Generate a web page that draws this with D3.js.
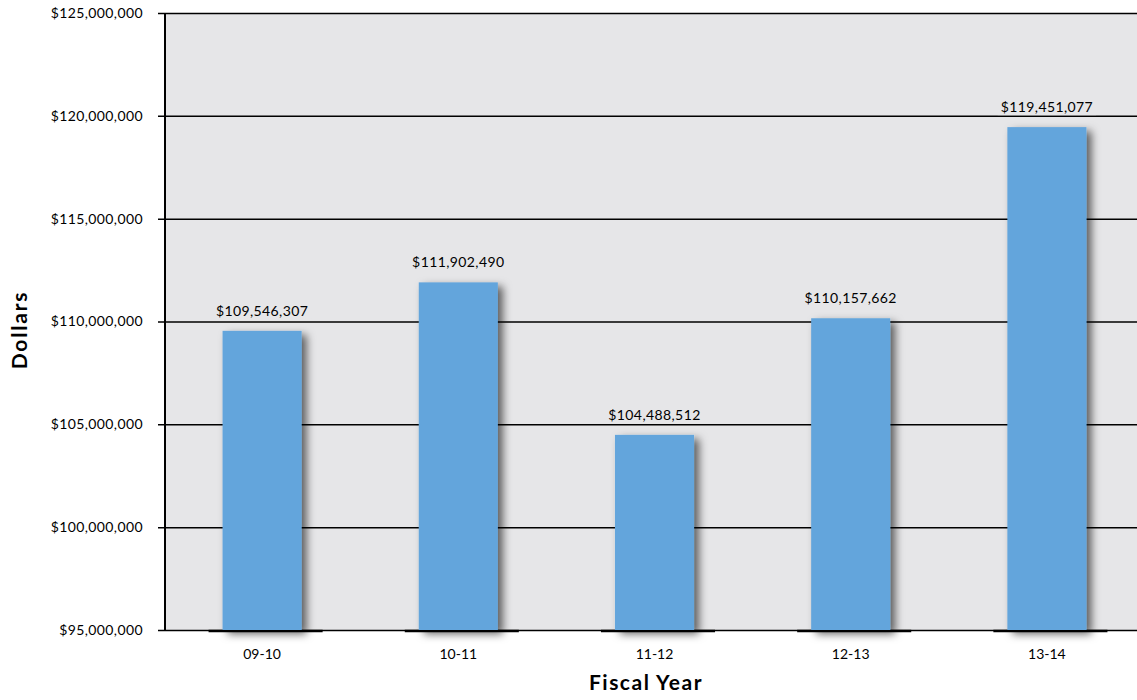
<!DOCTYPE html>
<html><head><meta charset="utf-8">
<script src="https://cdn.jsdelivr.net/npm/d3@7"></script>
<style>body{margin:0;background:#fff}svg{display:block}text{font-family:Lato,"Open Sans",sans-serif}</style>
</head><body>
<svg id="c" width="1137" height="700"></svg>
<script>
const categories = ["09-10","10-11","11-12","12-13","13-14"];
const values = [109546307,111902490,104488512,110157662,119451077];
const yTicks = [95000000,100000000,105000000,110000000,115000000,120000000,125000000];

const svg = d3.select("#c");
const M = {left:165, right:1137, top:13, bottom:630};
const x = d3.scaleBand().domain(categories).range([164, 1145]).paddingInner(0.597).paddingOuter(0.2985);
const y = d3.scaleLinear().domain([95000000,125000000]).range([M.bottom, M.top]);
const fmt = v => "$" + d3.format(",")(v);

const defs = svg.append("defs");
const f = defs.append("filter").attr("id","sh").attr("x","-30%").attr("y","-10%").attr("width","170%").attr("height","130%");
f.append("feDropShadow").attr("dx",5).attr("dy",4).attr("stdDeviation",4.5).attr("flood-color","#000").attr("flood-opacity",0.6);

svg.append("rect").attr("x",M.left).attr("y",M.top).attr("width",M.right-M.left).attr("height",M.bottom-M.top).attr("fill","#e6e6e8");

// y axis with gridlines
const yAxis = d3.axisLeft(y).tickValues(yTicks).tickFormat(fmt).tickSize(-(M.right-M.left+7)).tickPadding(15);
const gy = svg.append("g").attr("transform",`translate(${M.right},0)`).call(yAxis);
gy.select(".domain").remove();
gy.selectAll(".tick line").attr("stroke","#000").attr("stroke-width",1.5).attr("x2",-(M.right-M.left+7)).attr("x1",0);
gy.selectAll(".tick text").attr("x",-(M.right-M.left+7)-15).attr("font-size",14).attr("letter-spacing","0.4px").attr("fill","#000");

svg.append("line").attr("x1",M.left).attr("x2",M.left).attr("y1",M.top).attr("y2",M.bottom+1).attr("stroke","#000").attr("stroke-width",2);

// base segments under each category
svg.selectAll(".base").data(categories).join("line")
  .attr("x1",d=>x(d)-14).attr("x2",d=>x(d)+x.bandwidth()+21)
  .attr("y1",M.bottom+1).attr("y2",M.bottom+1).attr("stroke","#000").attr("stroke-width",2.5);

// bars
svg.selectAll(".bar").data(values).join("rect")
  .attr("x",(d,i)=>x(categories[i])).attr("width",x.bandwidth())
  .attr("y",d=>y(d)).attr("height",d=>M.bottom-y(d))
  .attr("fill","#63a5dc").attr("filter","url(#sh)");

// bar labels with background
const lg = svg.selectAll(".lbl").data(values).join("g");
lg.each(function(d,i){
  const g = d3.select(this);
  const cx = x(categories[i]) + x.bandwidth()/2;
  const t = g.append("text").attr("x",cx).attr("y",y(d)-15).attr("text-anchor","middle").attr("font-size",14).attr("letter-spacing","0.4px").attr("fill","#000").text(fmt(d));
  const bb = t.node().getBBox();
  g.insert("rect","text").attr("x",bb.x-3).attr("y",bb.y).attr("width",bb.width+6).attr("height",bb.height).attr("fill","#e6e6e8");
});

// x labels
svg.selectAll(".xl").data(categories).join("text")
  .attr("x",d=>x(d)+x.bandwidth()/2).attr("y",659).attr("text-anchor","middle").attr("font-size",14).attr("fill","#000").text(d=>d);

svg.append("text").attr("x",646).attr("y",690).attr("text-anchor","middle").attr("font-size",21).attr("letter-spacing","1.5px").attr("font-weight","bold").text("Fiscal Year");
svg.append("text").attr("transform","translate(27,330) rotate(-90)").attr("text-anchor","middle").attr("font-size",21).attr("letter-spacing","1.8px").attr("font-weight","bold").text("Dollars");
</script>
</body></html>
